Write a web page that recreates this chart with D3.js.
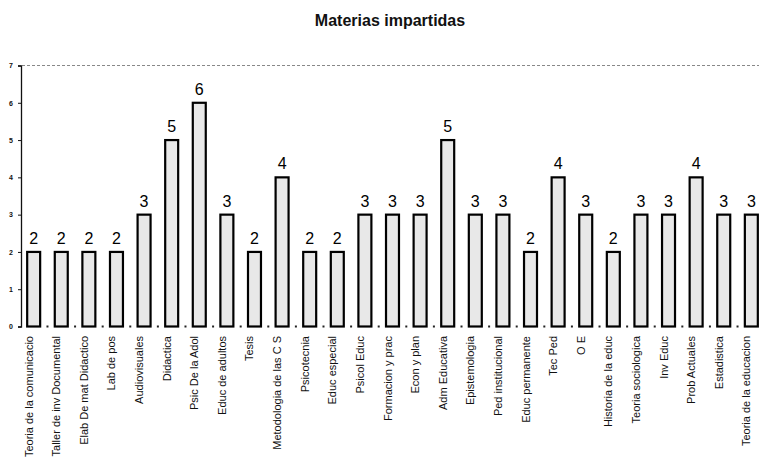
<!DOCTYPE html>
<html>
<head>
<meta charset="utf-8">
<script src="https://cdn.jsdelivr.net/npm/d3@7"></script>
<style>
  body { margin: 0; background: #fff; }
  svg { display: block; font-family: Arial, "Liberation Sans", sans-serif; }
</style>
</head>
<body>
<div id="chart"></div>
<script>
const materias = [
  "Teoria de la comunicacio", "Taller de inv  Documental", "Elab  De mat  Didactico",
  "Lab  de pos", "Audiovisuales", "Didactica", "Psic  De la Adol", "Educ  de adultos",
  "Tesis", "Metodologia de las C S", "Psicotecnia", "Educ  especial", "Psicol  Educ",
  "Formacion y prac", "Econ  y plan", "Adm  Educativa", "Epistemologia",
  "Ped  institucional", "Educ  permanente", "Tec  Ped", "O  E", "Historia de la educ",
  "Teoria sociologica", "Inv  Educ", "Prob  Actuales", "Estadistica",
  "Teoria de la educacion"
];
const cantidad = [2, 2, 2, 2, 3, 5, 6, 3, 2, 4, 2, 2, 3, 3, 3, 5, 3, 3, 2, 4, 3, 2, 3, 3, 4, 3, 3];
const yTicks = [0, 1, 2, 3, 4, 5, 6, 7];

const width = 759, height = 468;
const data = materias.map((m, i) => ({ name: m, value: cantidad[i] }));

const svg = d3.select("#chart").append("svg")
    .attr("width", width)
    .attr("height", height);

const x = d3.scaleBand()
    .domain(materias)
    .range([20, 765])
    .paddingInner(0.53)
    .paddingOuter(0.26);

const y = d3.scaleLinear()
    .domain([0, 7])
    .range([326.5, 65.5]);

// title
svg.append("text")
    .attr("x", 390)
    .attr("y", 26)
    .attr("text-anchor", "middle")
    .attr("font-size", 16)
    .attr("font-weight", "bold")
    .attr("fill", "#111")
    .text("Materias impartidas");

// dashed top line
svg.append("line")
    .attr("x1", 22).attr("x2", width)
    .attr("y1", y(7)).attr("y2", y(7))
    .attr("stroke", "#888")
    .attr("stroke-width", 1)
    .attr("stroke-dasharray", "3,2");

// y axis
const yAxis = svg.append("g")
    .attr("transform", "translate(21,0)")
    .call(d3.axisLeft(y).tickValues(yTicks).tickSize(3).tickFormat(d3.format("d")));
yAxis.select(".domain").attr("stroke", "#111").attr("stroke-width", 1.3);
yAxis.selectAll(".tick line").attr("stroke", "#111");
yAxis.selectAll(".tick text")
    .attr("font-size", 7)
    .attr("font-weight", "bold")
    .attr("fill", "#111")
    .attr("x", -8);

// baseline dots between categories
svg.append("g")
  .selectAll("rect")
  .data(materias.slice(1))
  .join("rect")
    .attr("x", d => x(d) - x.step() * x.paddingInner() / 2 - 1)
    .attr("y", y(0) - 1)
    .attr("width", 2)
    .attr("height", 2)
    .attr("fill", "#222");

// bars
svg.append("g")
  .selectAll("rect")
  .data(data)
  .join("rect")
    .attr("x", d => x(d.name))
    .attr("y", d => y(d.value))
    .attr("width", x.bandwidth())
    .attr("height", d => y(0) - y(d.value))
    .attr("fill", "#e8e8e8")
    .attr("stroke", "#000")
    .attr("stroke-width", 2.2);

// value labels
svg.append("g")
  .selectAll("text")
  .data(data)
  .join("text")
    .attr("x", d => x(d.name) + x.bandwidth() / 2)
    .attr("y", d => y(d.value) - 8)
    .attr("text-anchor", "middle")
    .attr("font-size", 16)
    .attr("fill", "#000")
    .text(d => d.value);

// category labels
svg.append("g")
  .selectAll("text")
  .data(data)
  .join("text")
    .attr("transform", d => `translate(${x(d.name) + x.bandwidth() / 2 - 1},336) rotate(-90)`)
    .attr("text-anchor", "end")
    .attr("font-size", 11)
    .attr("fill", "#111")
    .text(d => d.name);
</script>
</body>
</html>
